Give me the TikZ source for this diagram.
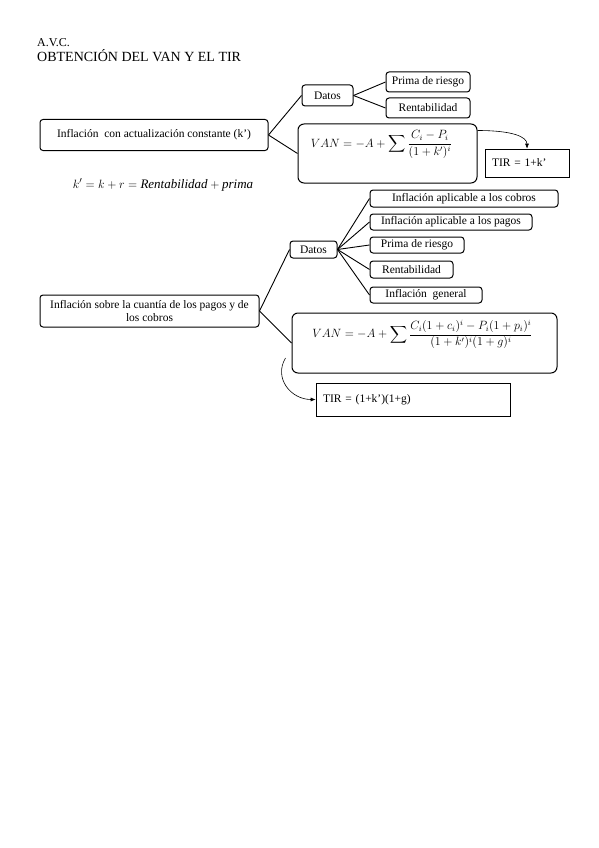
\documentclass[tikz,border=0pt]{standalone}
\usepackage{amsmath}
\usepackage{fontspec}
\setmainfont{Liberation Serif}
\usetikzlibrary{positioning,arrows.meta,calc}
\tikzset{
  mapbox/.style={draw, rounded corners=3pt, line width=1pt, align=center, inner sep=2pt, font=\fontsize{11.5}{13}\selectfont},
  bigbox/.style={draw, rounded corners=6pt, line width=1pt},
  tirbox/.style={draw, line width=0.6pt, align=left, inner xsep=7pt, font=\fontsize{11.5}{13}\selectfont},
  maplink/.style={line width=0.9pt},
  curvarr/.style={-{Latex[length=5pt,width=4pt]}, line width=0.6pt}
}

\begin{document}
\begin{tikzpicture}[x=1pt, y=-1pt]
\useasboundingbox[fill=white] (0,0) rectangle (599,848);
\node[anchor=base west, inner sep=0, font=\fontsize{12}{13}\selectfont] (avc) at (37,47) {A.V.C.};
\node[anchor=base west, inner sep=0, font=\fontsize{14}{15}\selectfont] (titulo) at (37,62) {OBTENCIÓN DEL VAN Y EL TIR};

% inflacion con actualizacion constante
\node[mapbox, minimum width=228pt, minimum height=31pt] (inflA) at (154,135) {Inflación\ \ con actualización constante (k’)};
\node[font=\fontsize{13}{14}\selectfont] (kprima) at (163,185) {$k' = k + r = \mathit{Rentabilidad} + \mathit{prima}$};
\node[mapbox, minimum width=51pt, minimum height=21pt] (datosA) at (327.5,95.5) {Datos};
\node[mapbox, minimum width=84pt, minimum height=20pt] (primaA) at (428,82) {Prima de riesgo};
\node[mapbox, minimum width=84pt, minimum height=20pt] (rentA) at (428,108) {Rentabilidad};
\node[bigbox, minimum width=179pt, minimum height=59pt] (vanA) at (387.5,153.5) {};
\node[font=\fontsize{12}{13}\selectfont] (vanAf) at ($(vanA.north)+(-6,21)$) {$\displaystyle VAN = -A + \sum \frac{C_i - P_i}{(1+k')^i}$};
\node[tirbox, text width=70pt, minimum height=28pt] (tirA) at (527,163) {TIR = 1+k’};
\draw[maplink] (inflA.east) -- (datosA.west);
\draw[maplink] (inflA.east) -- (vanA.west);
\draw[maplink] (datosA.east) -- (primaA.west);
\draw[maplink] (datosA.east) -- (rentA.west);
\draw[curvarr] ($(vanA.north east)+(0,7)$) .. controls +(35,0) and +(0,-12) .. (tirA.north);

% inflacion sobre la cuantia de pagos y cobros
\node[mapbox, minimum width=219pt, minimum height=32pt] (inflB) at (149.5,311) {Inflación sobre la cuantía de los pagos y de\\los cobros};
\node[mapbox, minimum width=47pt, minimum height=17pt] (datosB) at (313.5,249.5) {Datos};
\node[mapbox, minimum width=188pt, minimum height=17pt] (cobrosB) at (464,198.5) {Inflación aplicable a los cobros};
\node[mapbox, minimum width=162pt, minimum height=16pt] (pagosB) at (451,222) {Inflación aplicable a los pagos};
\node[mapbox, minimum width=94pt, minimum height=16pt] (primaB) at (417,245) {Prima de riesgo};
\node[mapbox, minimum width=83pt, minimum height=17pt] (rentB) at (411.5,269.5) {Rentabilidad};
\node[mapbox, minimum width=112pt, minimum height=16pt] (generalB) at (426,295) {Inflación\ \ general};
\node[bigbox, minimum width=265pt, minimum height=60pt] (vanB) at (424.5,343) {};
\node[font=\fontsize{12}{13}\selectfont] (vanBf) at ($(vanB.north)+(-2,22)$) {$\displaystyle VAN = -A + \sum \frac{C_i(1+c_i)^i - P_i(1+p_i)^i}{(1+k')^i(1+g)^i}$};
\node[tirbox, text width=180pt, minimum height=33pt] (tirB) at (413,399.5) {TIR = (1+k’)(1+g)};
\coordinate (vanBout) at ($(vanB.west)+(-6,15)$);
\draw[maplink] (inflB.east) -- (datosB.west);
\draw[maplink] (inflB.east) -- (vanB.west);
\foreach \dest in {cobrosB, pagosB, primaB, rentB, generalB}
  \draw[maplink] (datosB.east) -- (\dest.west);
\draw[curvarr] (vanBout) .. controls +(-12,20) and +(-25,0) .. (tirB.west);
\end{tikzpicture}
\end{document}
